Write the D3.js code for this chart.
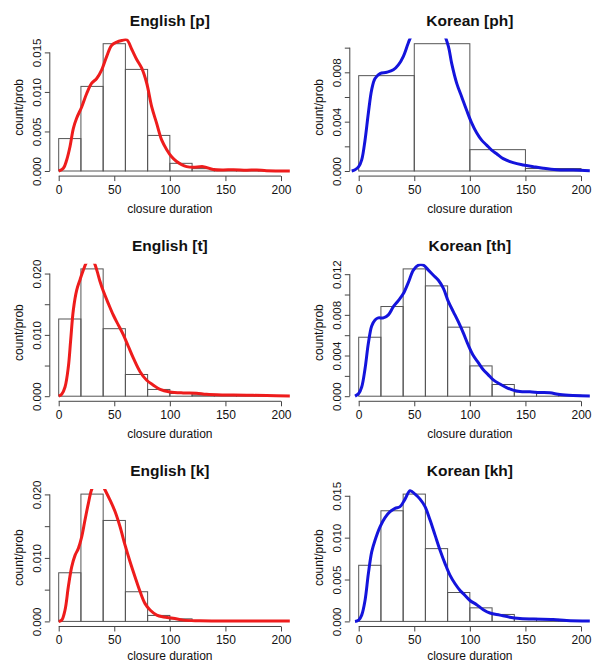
<!DOCTYPE html>
<html>
<head>
<meta charset="utf-8">
<script src="https://cdn.jsdelivr.net/npm/d3@7"></script>
<style>
  body { margin: 0; background: #fff; }
  text { font-family: "Liberation Sans", Arial, Helvetica, sans-serif; fill: #111; }
</style>
</head>
<body>
<div id="chart"></div>
<script>
// panel titles, in reading order (row by row)
var titles = ["English [p]", "Korean [ph]", "English [t]", "Korean [th]", "English [k]", "Korean [kh]"];

var xTicks = [0, 50, 100, 150, 200];

// histogram bin edges
var binsBy20 = [0, 20, 40, 60, 80, 100, 120, 140, 160, 180, 200];
var binsBy50 = [0, 50, 100, 150, 200];

// histogram densities (count/prob)
var engPHist  = [0.0041, 0.0107, 0.0161, 0.01285, 0.0045, 0.00097, 0.0003, 0.0001, 0.0001, 0.00005];
var korPhHist = [0.00773, 0.01032, 0.00173, 0.0002];
var engTHist  = [0.01259, 0.02076, 0.01101, 0.00354, 0.0011, 0.00044, 0.0002, 0.0001, 0.0001, 0.00005];
var korThHist = [0.0058, 0.00882, 0.01252, 0.01085, 0.00679, 0.00298, 0.00115, 0.00042, 0.00027, 0.0001];
var engKHist  = [0.00766, 0.02005, 0.0159, 0.00467, 0.00094, 0.0004, 0.0001, 0.00005];
var korKhHist = [0.0067, 0.01321, 0.0152, 0.00869, 0.00345, 0.00162, 0.00083, 0.00036, 0.00024, 0.0001];

// density curves, [duration, density]
var engPCurve = [[0,0],[4.2,0.00034],[7.2,0.0014],[10.2,0.0031],[13.2,0.0054],[16.2,0.0067],[20.7,0.0081],[25.2,0.0098],[29.7,0.0111],[34.2,0.0117],[38.7,0.0128],[43.2,0.0145],[47.7,0.0159],[52.2,0.0163],[56.7,0.0165],[61.2,0.0166],[65.7,0.0154],[70.2,0.0141],[74.7,0.013],[79.2,0.0111],[83.7,0.0081],[88.2,0.006],[92.7,0.0039],[97.2,0.0027],[101.6,0.0018],[106.1,0.0012],[110.6,0.0008],[115.1,0.00055],[121,0.00046],[130,0.00055],[139,0.0002],[148,0.00013],[157,0.00017],[169,0.0001],[178,0.00013],[187,0.00004],[208,0]];
var korPhCurve = [[-6.3,0],[-3.3,0.0001],[0,0.00035],[2.7,0.0009],[5.7,0.0025],[8.7,0.0047],[11.7,0.0066],[14.7,0.0075],[19.2,0.0079],[25.2,0.008],[31.2,0.0082],[35.7,0.0086],[40.2,0.0093],[44.7,0.0104],[50,0.0115],[56,0.0123],[63,0.0126],[70,0.0123],[76,0.0113],[80.7,0.0101],[83.7,0.0087],[88.2,0.0071],[92.7,0.006],[97.2,0.0049],[101.6,0.0039],[106.1,0.0031],[110.6,0.0025],[115.1,0.0021],[119.6,0.0017],[124.1,0.0014],[130,0.001],[139,0.00068],[148,0.00049],[157,0.00035],[166,0.00022],[178,0.0001],[193,0.00008],[208,0.00003]];
var engTCurve = [[0,0],[2.7,0.0003],[5.7,0.0015],[8.7,0.0048],[10.8,0.0092],[13.2,0.0141],[16.2,0.0173],[19.2,0.019],[22.2,0.0206],[25,0.0218],[28,0.0224],[31,0.0221],[34.2,0.0206],[37.2,0.0187],[40.2,0.0171],[44.7,0.0151],[49.2,0.0132],[53.7,0.0116],[58.2,0.01],[62.7,0.0081],[67.2,0.0062],[73.2,0.004],[79.2,0.0026],[85.2,0.0018],[91.2,0.0011],[100,0.0007],[112,0.00054],[124,0.0005],[133,0.0003],[151,0.0002],[169,0.00016],[187,0.0001],[208,0.00005]];
var korThCurve = [[-3.3,0],[0,0.00026],[2.7,0.0009],[5.7,0.0027],[8.7,0.0052],[11.7,0.0069],[14.7,0.0075],[17.7,0.0077],[22.2,0.0077],[26.7,0.008],[31.2,0.0088],[35.7,0.0094],[40.2,0.0101],[44.7,0.0112],[49.2,0.0124],[53.7,0.0129],[58.2,0.0129],[62.7,0.0124],[67.2,0.0119],[71.7,0.0114],[76.2,0.0106],[80.7,0.0093],[85.2,0.0083],[89.7,0.0073],[94.2,0.0062],[98.7,0.005],[103.1,0.004],[107.6,0.0033],[112.1,0.0026],[116.6,0.0021],[121.1,0.0016],[127,0.0012],[133,0.00085],[139,0.0006],[145,0.00046],[154,0.00043],[163,0.00036],[172,0.00033],[181,0.00016],[193,0.00007],[208,0.00003]];
var engKCurve = [[0,0],[2.7,0.0002],[5.7,0.0018],[8.7,0.0055],[11.7,0.0086],[14.7,0.0104],[17.7,0.0115],[20.7,0.0133],[23.7,0.016],[26.7,0.0186],[29.7,0.0208],[33,0.0218],[36,0.022],[39,0.0216],[41.7,0.0207],[46.2,0.0191],[50.7,0.0173],[55.2,0.0149],[59.7,0.012],[64.2,0.0094],[68.7,0.007],[73.2,0.0047],[77.7,0.0028],[82.2,0.0018],[88.2,0.001],[94.2,0.0007],[103,0.0005],[112,0.0002],[127,0.0001],[157,0.00005],[208,0.00005]];
var korKhCurve = [[-3.3,0],[0,0.00016],[2.7,0.00075],[5.7,0.0025],[8.7,0.0057],[11.7,0.0083],[14.7,0.0097],[19.2,0.0113],[23.7,0.0124],[28.2,0.0131],[32.7,0.0135],[37.2,0.0137],[41.7,0.0146],[46.2,0.0156],[50.7,0.0152],[55.2,0.0146],[59.7,0.0137],[64.2,0.0121],[68.7,0.0103],[73.2,0.0085],[77.7,0.0069],[82.2,0.0055],[86.7,0.0045],[91.2,0.0037],[95.7,0.0031],[100.1,0.0025],[106.1,0.002],[112.1,0.0014],[118.1,0.001],[127,0.00075],[136,0.0005],[145,0.00036],[157,0.00028],[175,0.00024],[187,0.00012],[208,0.00004]];

// y ticks and their labels (R leaves some ticks unlabelled)
var yTicksP  = [0, 0.005, 0.010, 0.015];
var yLabelsP = ["0.000", "0.005", "0.010", "0.015"];
var yTicksPh  = [0, 0.002, 0.004, 0.006, 0.008, 0.010];
var yLabelsPh = ["0.000", "", "0.004", "", "0.008", ""];
var yTicksT  = [0, 0.005, 0.010, 0.015, 0.020];
var yLabelsT = ["0.000", "", "0.010", "", "0.020"];
var yTicksTh  = [0, 0.002, 0.004, 0.006, 0.008, 0.010, 0.012];
var yLabelsTh = ["0.000", "", "0.004", "", "0.008", "", "0.012"];
var yTicksK  = [0, 0.005, 0.010, 0.015, 0.020];
var yLabelsK = ["0.000", "", "0.010", "", "0.020"];
var yTicksKh  = [0, 0.005, 0.010, 0.015];
var yLabelsKh = ["0.000", "0.005", "0.010", "0.015"];

function init() {
    var w = 599, h = 663;
    var colW = 300, rowH = 225.2;
    var plotLeft = 49.8, plotW = 240.1;
    var zeroY = 171;          // y of density 0 in first row
    var barSpan = 127.3;      // px from 0 to tallest bar

    var panels = [
        {bins: binsBy20, hist: engPHist,  curve: engPCurve,  yt: yTicksP,  yl: yLabelsP,  col: "#ee1c1c"},
        {bins: binsBy50, hist: korPhHist, curve: korPhCurve, yt: yTicksPh, yl: yLabelsPh, col: "#1414dc"},
        {bins: binsBy20, hist: engTHist,  curve: engTCurve,  yt: yTicksT,  yl: yLabelsT,  col: "#ee1c1c"},
        {bins: binsBy20, hist: korThHist, curve: korThCurve, yt: yTicksTh, yl: yLabelsTh, col: "#1414dc"},
        {bins: binsBy20, hist: engKHist,  curve: engKCurve,  yt: yTicksK,  yl: yLabelsK,  col: "#ee1c1c"},
        {bins: binsBy20, hist: korKhHist, curve: korKhCurve, yt: yTicksKh, yl: yLabelsKh, col: "#1414dc"}
    ];

    var svg = d3.select("#chart")
        .append("svg")
        .attr("width", w)
        .attr("height", h);

    svg.append("rect").attr("width", w).attr("height", h).attr("fill", "#fff");

    panels.forEach(function(p, i) {
        var c = i % 2, r = Math.floor(i / 2);
        var x0 = plotLeft + c * colW;
        var r0 = zeroY + r * rowH;
        var ymax = d3.max(p.hist);
        var pad = barSpan * 0.04;

        var xScale = d3.scaleLinear().domain([-8, 208]).range([x0, x0 + plotW]);
        var yScale = d3.scaleLinear()
            .domain([-0.04 * ymax, 1.04 * ymax])
            .range([r0 + pad, r0 - barSpan - pad]);

        var g = svg.append("g");

        // clip for the density line
        var top = yScale.range()[1], bottom = yScale.range()[0];
        svg.append("clipPath").attr("id", "clip" + i)
            .append("rect")
            .attr("x", x0).attr("y", top)
            .attr("width", plotW).attr("height", bottom - top);

        // bars
        g.selectAll("rect.bar")
            .data(p.hist)
            .enter().append("rect")
            .attr("class", "bar")
            .attr("x", function(d, j) { return xScale(p.bins[j]); })
            .attr("width", function(d, j) { return xScale(p.bins[j + 1]) - xScale(p.bins[j]); })
            .attr("y", function(d) { return yScale(d); })
            .attr("height", function(d) { return yScale(0) - yScale(d); })
            .attr("fill", "none")
            .attr("stroke", "#555")
            .attr("stroke-width", 1);

        // density curve
        var line = d3.line()
            .x(function(d) { return xScale(d[0]); })
            .y(function(d) { return yScale(d[1]); })
            .curve(d3.curveCatmullRom.alpha(0.5));

        g.append("path")
            .datum(p.curve)
            .attr("d", line)
            .attr("fill", "none")
            .attr("stroke", p.col)
            .attr("stroke-width", 3)
            .attr("stroke-linejoin", "round")
            .attr("clip-path", "url(#clip" + i + ")");

        // x axis
        var xAxis = d3.axisBottom(xScale).tickValues(xTicks).tickSize(5).tickSizeOuter(0);
        var gx = g.append("g")
            .attr("transform", "translate(0," + bottom + ")")
            .call(xAxis);
        gx.select(".domain").remove();
        gx.selectAll(".tick line").attr("stroke", "#444");
        gx.selectAll(".tick text")
            .attr("y", 18).attr("dy", 0)
            .style("font-size", "12px")
            .style("font-family", "'Liberation Sans', Arial, sans-serif")
            .attr("fill", "#111");
        gx.append("line")
            .attr("x1", xScale(xTicks[0])).attr("x2", xScale(xTicks[xTicks.length - 1]))
            .attr("stroke", "#444");

        // y axis
        var yAxis = d3.axisLeft(yScale).tickValues(p.yt)
            .tickFormat(function(d, j) { return p.yl[j]; })
            .tickSize(5).tickSizeOuter(0);
        var gy = g.append("g")
            .attr("transform", "translate(" + x0 + ",0)")
            .call(yAxis);
        gy.select(".domain").remove();
        gy.selectAll(".tick line").attr("stroke", "#444");
        gy.selectAll(".tick text")
            .attr("x", 0).attr("dy", 0)
            .attr("text-anchor", "middle")
            .attr("transform", "translate(-9,0) rotate(-90)")
            .style("font-size", "11.5px")
            .style("font-family", "'Liberation Sans', Arial, sans-serif")
            .attr("fill", "#111");
        gy.append("line")
            .attr("y1", yScale(p.yt[0])).attr("y2", yScale(p.yt[p.yt.length - 1]))
            .attr("stroke", "#444");

        // labels
        var cx = x0 + plotW / 2;
        g.append("text")
            .attr("x", cx).attr("y", r0 - 145)
            .attr("text-anchor", "middle")
            .style("font-size", "15.5px")
            .style("font-weight", "bold")
            .text(titles[i]);

        g.append("text")
            .attr("x", cx).attr("y", Math.min(r0 + 42, h - 3))
            .attr("text-anchor", "middle")
            .style("font-size", "12px")
            .text("closure duration");

        g.append("text")
            .attr("transform", "translate(" + (23 + c * colW) + "," + ((top + bottom) / 2) + ") rotate(-90)")
            .attr("text-anchor", "middle")
            .style("font-size", "12px")
            .text("count/prob");
    });
}
window.onload = init;
</script>
</body>
</html>
